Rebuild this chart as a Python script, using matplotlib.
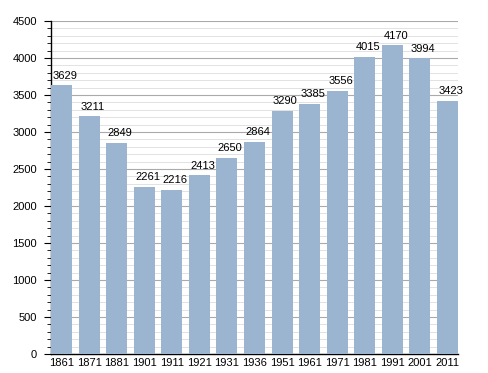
import matplotlib
matplotlib.use('Agg')
import matplotlib.pyplot as plt
import numpy as np
from matplotlib.ticker import MultipleLocator

years = ['1861', '1871', '1881', '1901', '1911', '1921', '1931', '1936',
         '1951', '1961', '1971', '1981', '1991', '2001', '2011']
population = [3629, 3211, 2849, 2261, 2216, 2413, 2650, 2864,
              3290, 3385, 3556, 4015, 4170, 3994, 3423]

plt.rcParams['font.family'] = ['Liberation Sans', 'DejaVu Sans']

fig = plt.figure(figsize=(4.88, 3.73), dpi=100)
ax = fig.add_axes([0.1045, 0.0509, 0.834, 0.8928])

x = np.arange(len(years))
w = 0.76
ax.bar(x, population, width=w, color='#9bb4cf', zorder=3)
for xi, v in zip(x, population):
    ax.text(xi + 0.12, v + 65, str(v), ha='center', va='bottom', fontsize=8, zorder=4)

ax.set_xlim(-w / 2, len(years) - 1 + w / 2)
ax.set_ylim(0, 4500)
ax.set_xticks(x)
ax.set_xticklabels(years, fontsize=8)
ax.yaxis.set_major_locator(MultipleLocator(500))
ax.yaxis.set_minor_locator(MultipleLocator(100))
ax.tick_params(axis='y', which='major', labelsize=8, length=5, width=0.8, pad=5)
ax.tick_params(axis='y', which='minor', length=3, width=0.6)
ax.tick_params(axis='x', length=0, pad=3)

ax.grid(axis='y', which='major', color='#aaaaaa', linewidth=0.8, zorder=0)
ax.grid(axis='y', which='minor', color='#e2e2e2', linewidth=0.7, zorder=0)

for s in ['top', 'right']:
    ax.spines[s].set_visible(False)
ax.spines['left'].set_linewidth(1.0)
ax.spines['bottom'].set_linewidth(1.0)

fig.savefig('out.png', dpi=100)
